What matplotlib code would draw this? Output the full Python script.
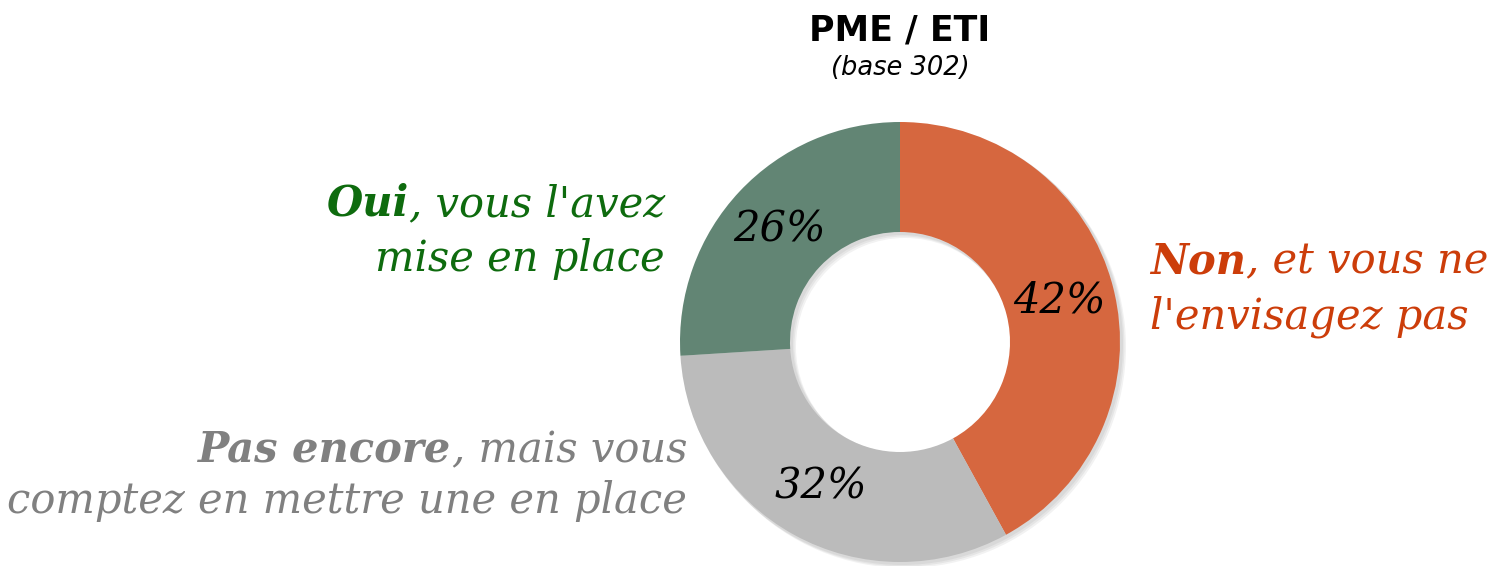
import matplotlib
matplotlib.use("Agg")
import matplotlib.pyplot as plt

# ---- data ----
categories = ["Non", "Pas encore", "Oui"]
values = [42, 32, 26]
slice_colors = ["#D6673F", "#BBBBBB", "#628574"]
title = "PME / ETI"
subtitle = "(base 302)"
label_bold = ["Non", "Pas encore", "Oui"]
label_rest_line1 = [", et vous ne", ", mais vous", ", vous l'avez"]
label_line2 = ["l'envisagez pas", "comptez en mettre une en place", "mise en place"]
label_colors = ["#CC3D0A", "#808080", "#0E6B0E"]

W, H = 1495, 566
fig = plt.figure(figsize=(W / 100, H / 100), dpi=100)
ax = fig.add_axes([0, 0, 1, 1])

def Y(y):
    return H - y

cx, cy, R = 900, 342, 220
SERIF = "DejaVu Serif"
LSIZE = 30

# subtle drop shadow
for i, a in enumerate([0.05, 0.05, 0.05]):
    off = 2 + i * 1.5
    ax.pie([1], colors=["#000000"], radius=R + 1, center=(cx + off, Y(cy) - off),
           wedgeprops=dict(width=R / 2 + 2, edgecolor="none", alpha=a), startangle=90)

wedges, texts, autotexts = ax.pie(
    values, colors=slice_colors, startangle=90, counterclock=False,
    radius=R, center=(cx, Y(cy)),
    wedgeprops=dict(width=R / 2, edgecolor="none"),
    autopct=lambda p: f"{round(p)}%", pctdistance=0.75,
    textprops=dict(family=SERIF, style="italic", fontsize=30, color="black"))
for t in autotexts:
    t.set_zorder(5)

ax.set_xlim(0, W)
ax.set_ylim(0, H)
ax.set_aspect("equal")
ax.axis("off")

ax.text(cx, Y(40), title, ha="center", va="baseline", fontsize=25,
        family="DejaVu Sans", weight="bold", color="black")
ax.text(cx, Y(75), subtitle, ha="center", va="baseline", fontsize=18.5,
        family="DejaVu Sans", style="italic", color="black")

fig.canvas.draw()
renderer = fig.canvas.get_renderer()

def right_mixed(x, y, bold, rest, color):
    t = ax.text(x, Y(y), rest, ha="right", va="baseline", family=SERIF,
                style="italic", fontsize=LSIZE, color=color)
    bb = t.get_window_extent(renderer)
    ax.text(bb.x0, Y(y), bold, ha="right", va="baseline", family=SERIF,
            style="italic", weight="bold", fontsize=LSIZE, color=color)

def left_mixed(x, y, bold, rest, color):
    t = ax.text(x, Y(y), bold, ha="left", va="baseline", family=SERIF,
                style="italic", weight="bold", fontsize=LSIZE, color=color)
    bb = t.get_window_extent(renderer)
    ax.text(bb.x1, Y(y), rest, ha="left", va="baseline", family=SERIF,
            style="italic", fontsize=LSIZE, color=color)

def plain(x, y, s, color, ha):
    ax.text(x, Y(y), s, ha=ha, va="baseline", family=SERIF,
            style="italic", fontsize=LSIZE, color=color)

# Non (right side, left aligned)
left_mixed(1150, 273, label_bold[0], label_rest_line1[0], label_colors[0])
plain(1150, 328, label_line2[0], label_colors[0], "left")
# Pas encore (bottom left, right aligned)
right_mixed(687, 462, label_bold[1], label_rest_line1[1], label_colors[1])
plain(687, 513, label_line2[1], label_colors[1], "right")
# Oui (top left, right aligned)
right_mixed(665, 216, label_bold[2], label_rest_line1[2], label_colors[2])
plain(665, 271, label_line2[2], label_colors[2], "right")

fig.savefig("out.png", dpi=100)
